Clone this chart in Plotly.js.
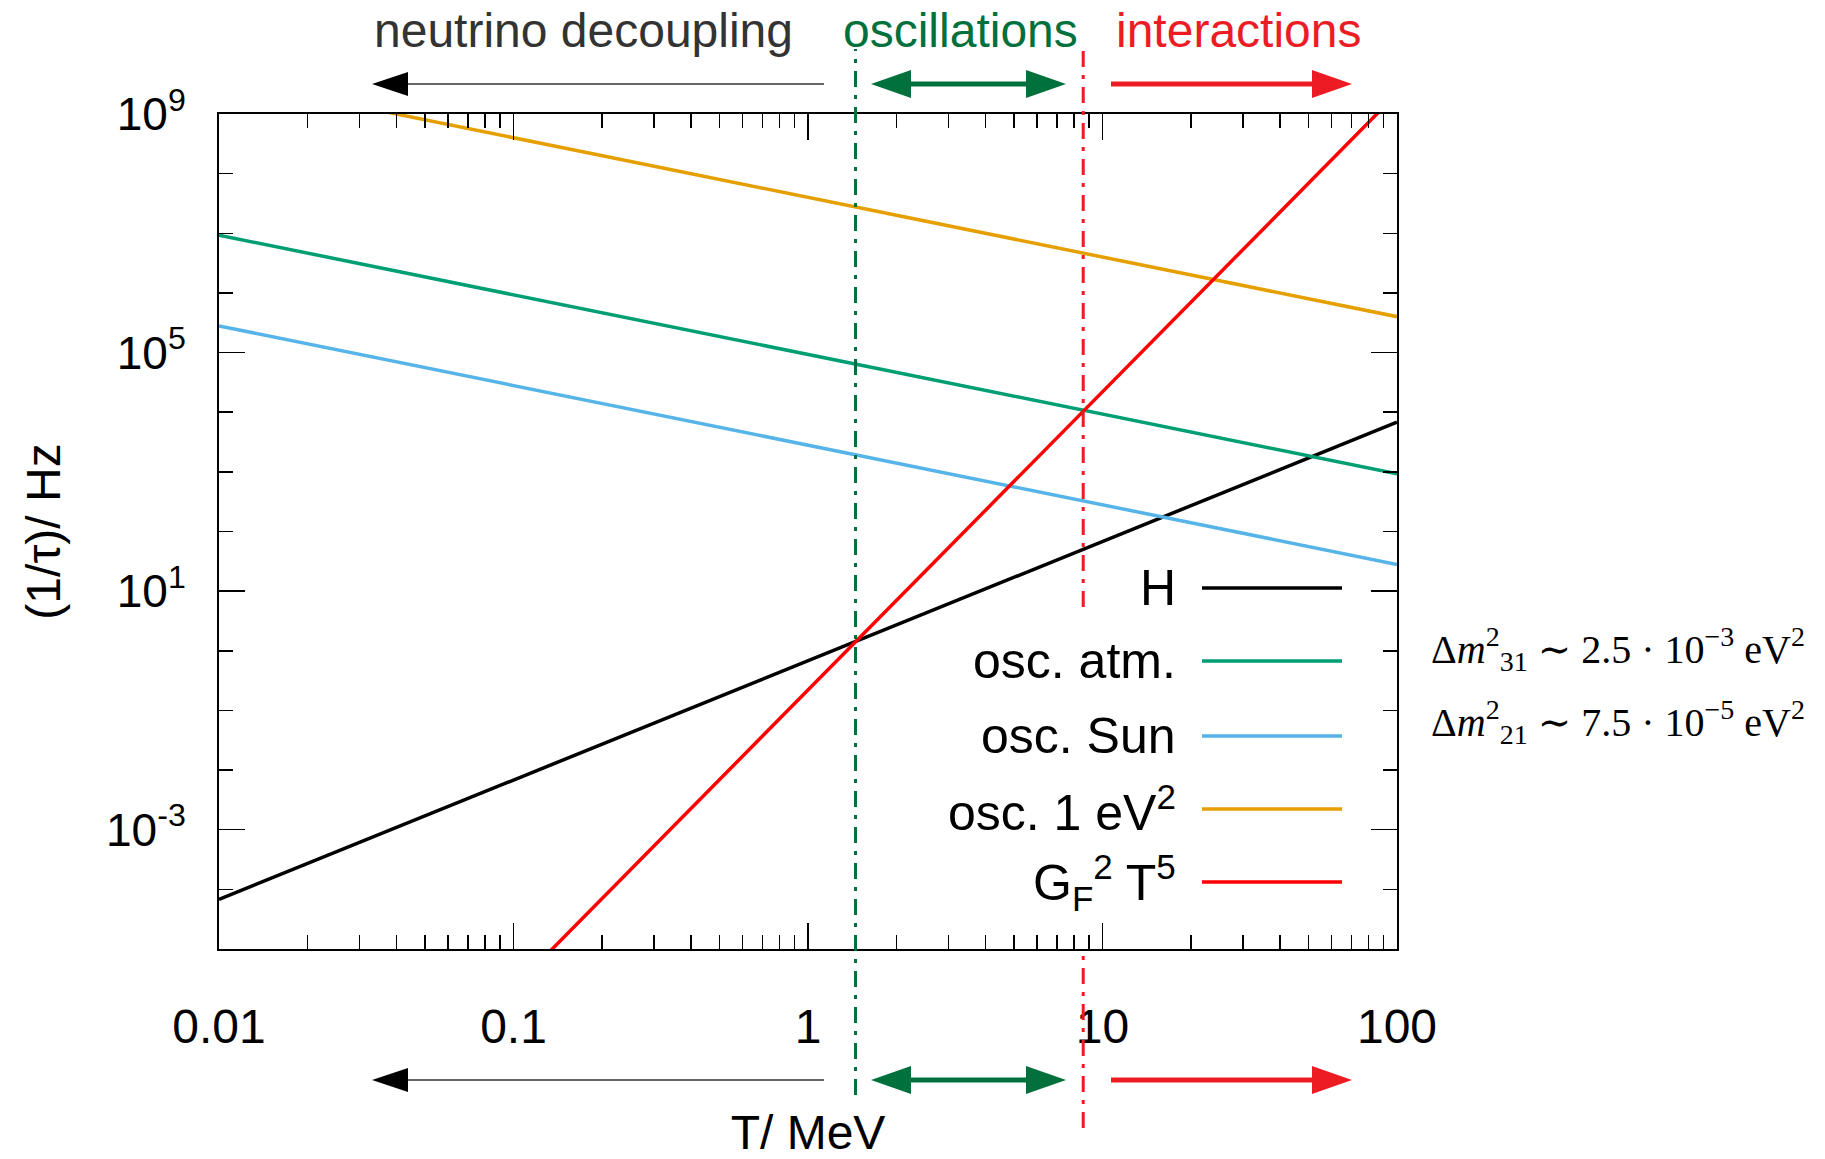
<!DOCTYPE html>
<html><head><meta charset="utf-8">
<script src="https://cdn.plot.ly/plotly-3.0.1.min.js"></script>
<style>html,body{margin:0;padding:0;background:#fff;} #chart{width:1825px;height:1159px;}</style>
</head><body><div id="chart"></div>
<script>
// ---------- data ----------
const T = [0.01, 0.1, 1, 10, 100];                       // MeV
const rateH   = [6.8e-5, 6.8e-3, 0.68, 68, 6.8e3];       // Hz
const rateAtm = [9.3e6, 9.3e5, 9.3e4, 9.3e3, 930];
const rateSun = [2.8e5, 2.8e4, 2.8e3, 280, 28];
const rate1eV = [4.0e9, 4.0e8, 4.0e7, 4.0e6, 4.0e5];
const rateGF  = [2.2e-11, 2.2e-6, 0.22, 2.2e4, 2.2e9];
const seriesNames  = ['H', 'osc. atm.', 'osc. Sun', 'osc. 1 eV<sup>2</sup>', 'G<sub>F</sub><sup>2</sup> T<sup>5</sup>'];
const seriesColors = ['#000000', '#009e73', '#56b4e9', '#e69f00', '#ff0000'];
const boundaryT = [1.45, 8.6];                           // decoupling / oscillation boundaries
const boundaryColors = ['#00703c', '#ed1c24'];
const regionLabels = ['neutrino decoupling', 'oscillations', 'interactions'];
const regionColors = ['#333333', '#00703c', '#ed1c24'];
const massLabels = ['Δ<i>m</i><sup>2</sup><sub>31</sub> ∼ 2.5 · 10<sup>−3</sup> eV<sup>2</sup>',
                    'Δ<i>m</i><sup>2</sup><sub>21</sub> ∼ 7.5 · 10<sup>−5</sup> eV<sup>2</sup>'];
const xTickVals = [0.01, 0.1, 1, 10, 100];
const xTickText = ['0.01', '0.1', '1', '10', '100'];
const yTickVals = [1e-3, 1e1, 1e5, 1e9];
const yTickText = ['10<sup>-3</sup>', '10<sup>1</sup>', '10<sup>5</sup>', '10<sup>9</sup>'];

// ---------- geometry ----------
const W = 1825, H = 1159;
const L = 219, R = 1397, TOP = 114, BOT = 949;
const px = v => (v - L) / (R - L);
const py = v => (BOT - v) / (BOT - TOP);
const FONT = 'Liberation Sans, Arial, Helvetica, sans-serif';

const allRates = [rateH, rateAtm, rateSun, rate1eV, rateGF];
const traces = allRates.map((r, i) => ({
  x: T, y: r, type: 'scatter', mode: 'lines', name: seriesNames[i],
  line: {color: seriesColors[i], width: 3.5}, showlegend: false, hoverinfo: 'skip'
}));

const shapes = [];
const annotations = [];

// vertical boundary lines
const dashPat = '16px,8px,4px,8px';
shapes.push({type: 'line', xref: 'x', yref: 'paper', x0: boundaryT[0], x1: boundaryT[0],
  y0: py(1095), y1: py(49), line: {color: boundaryColors[0], width: 3, dash: dashPat}});
shapes.push({type: 'line', xref: 'x', yref: 'paper', x0: boundaryT[1], x1: boundaryT[1],
  y0: py(607), y1: py(49), line: {color: boundaryColors[1], width: 3, dash: dashPat}});
shapes.push({type: 'line', xref: 'x', yref: 'paper', x0: boundaryT[1], x1: boundaryT[1],
  y0: py(1128), y1: py(949), line: {color: boundaryColors[1], width: 3, dash: dashPat}});

// arrows (top and bottom rows)
function tri(tipX, dir, yc, len, half, color) {
  const bx = tipX - dir * len;
  return {type: 'path', xref: 'paper', yref: 'paper',
    path: `M ${px(tipX)} ${py(yc)} L ${px(bx)} ${py(yc - half)} L ${px(bx)} ${py(yc + half)} Z`,
    fillcolor: color, line: {color: color, width: 0}};
}
[84, 1080].forEach(yc => {
  shapes.push({type: 'line', xref: 'paper', yref: 'paper', x0: px(824), x1: px(400), y0: py(yc), y1: py(yc),
    line: {color: '#333333', width: 1.5}});
  shapes.push(tri(372, -1, yc, 36, 12, '#000000'));
  shapes.push({type: 'line', xref: 'paper', yref: 'paper', x0: px(900), x1: px(1036), y0: py(yc), y1: py(yc),
    line: {color: regionColors[1], width: 5}});
  shapes.push(tri(871, -1, yc, 40, 14, regionColors[1]));
  shapes.push(tri(1066, 1, yc, 40, 14, regionColors[1]));
  shapes.push({type: 'line', xref: 'paper', yref: 'paper', x0: px(1111), x1: px(1320), y0: py(yc), y1: py(yc),
    line: {color: regionColors[2], width: 5}});
  shapes.push(tri(1352, 1, yc, 40, 14, regionColors[2]));
});

// region labels
const regionX = [583, 961, 1238];
regionLabels.forEach((t, i) => annotations.push({
  text: t, xref: 'paper', yref: 'paper', x: px(regionX[i]), y: py(30),
  xanchor: 'center', yanchor: 'middle', showarrow: false,
  font: {family: FONT, size: 48, color: regionColors[i]}
}));

// custom legend (text left, sample right)
const legY = [588, 661, 736, 809, 882];
seriesNames.forEach((n, i) => {
  annotations.push({text: n, xref: 'paper', yref: 'paper', x: px(1178), y: py(legY[i]),
    xanchor: 'right', yanchor: 'middle', showarrow: false,
    font: {family: FONT, size: 50, color: '#000'}});
  shapes.push({type: 'line', xref: 'paper', yref: 'paper', x0: px(1202), x1: px(1342),
    y0: py(legY[i]), y1: py(legY[i]), line: {color: seriesColors[i], width: 3.5}});
});

// mass-splitting labels
const massY = [649, 722];
massLabels.forEach((t, i) => annotations.push({
  text: t, xref: 'paper', yref: 'paper', x: px(1429), y: py(massY[i]),
  xanchor: 'left', yanchor: 'middle', showarrow: false,
  font: {family: 'Liberation Serif, DejaVu Serif, serif', size: 40, color: '#000'}
}));

const layout = {
  width: W, height: H,
  margin: {l: L, r: W - R, t: TOP, b: H - BOT, pad: 0},
  paper_bgcolor: '#fff', plot_bgcolor: '#fff',
  showlegend: false,
  xaxis: {
    type: 'log', range: [-2, 2], tickmode: 'array', tickvals: xTickVals, ticktext: xTickText,
    ticks: 'inside', ticklen: 26, tickwidth: 1.5, tickcolor: '#000',
    showline: true, linecolor: '#000', linewidth: 2, mirror: 'allticks',
    showgrid: false, zeroline: false, ticklabelstandoff: 34,
    tickfont: {family: FONT, size: 48, color: '#000'},
    minor: {dtick: 'D1', ticks: 'inside', ticklen: 14, tickwidth: 1.5, tickcolor: '#000', showgrid: false},
    title: {text: 'T/ MeV', standoff: 76, font: {family: FONT, size: 48, color: '#000'}}
  },
  yaxis: {
    type: 'log', range: [-5, 9], tickmode: 'array', tickvals: yTickVals, ticktext: yTickText,
    ticks: 'inside', ticklen: 26, tickwidth: 1.5, tickcolor: '#000',
    showline: true, linecolor: '#000', linewidth: 2, mirror: 'allticks',
    showgrid: false, zeroline: false, ticklabelstandoff: 22,
    tickfont: {family: FONT, size: 46, color: '#000'},
    minor: {dtick: 1, ticks: 'inside', ticklen: 14, tickwidth: 1.5, tickcolor: '#000', showgrid: false},
    title: {text: '(1/τ)/ Hz', standoff: 30, font: {family: FONT, size: 48, color: '#000'}}
  },
  shapes: shapes,
  annotations: annotations
};

Plotly.newPlot('chart', traces, layout, {displayModeBar: false, staticPlot: true});
</script>
</body></html>
